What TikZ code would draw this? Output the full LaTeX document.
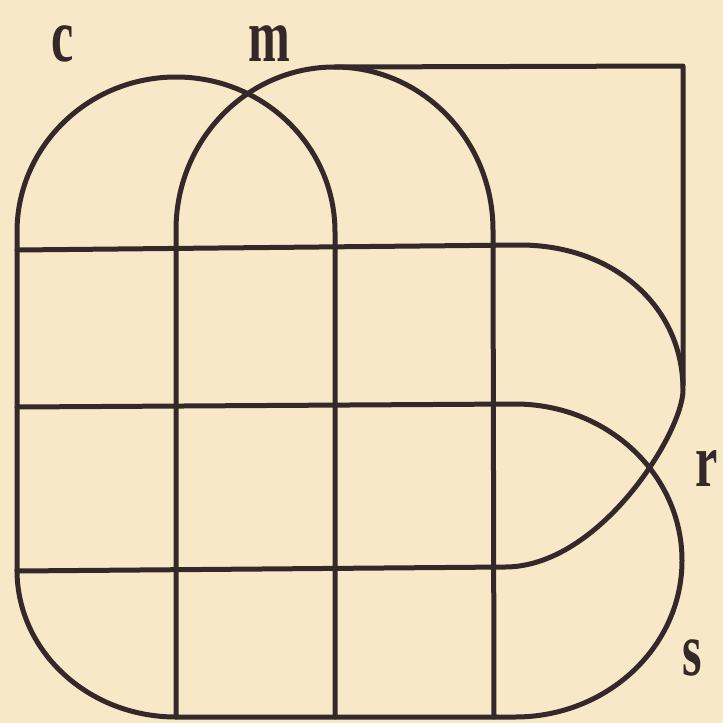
\documentclass[tikz,border=0pt]{standalone}
\usepackage{graphicx}
\usepackage{fontspec}
\newfontfamily\lblfont{Liberation Serif}
\definecolor{paper}{HTML}{F7E9C7}
\definecolor{ink}{HTML}{35282A}
\tikzset{
  lineset/.style={draw=ink, line width=5pt, line join=round, line cap=round},
  lbl/.style={text=ink, inner sep=0pt, font=\lblfont\fontsize{76}{76}\selectfont\bfseries}
}
\newcommand{\cond}[1]{\scalebox{0.66}[1]{#1}}
\begin{document}
\begin{tikzpicture}[x=1pt,y=-1pt]
\fill[paper] (0,0) rectangle (723,723);
\useasboundingbox (0,0) rectangle (723,723);
% set c : left arch
\draw[lineset] (17,570) -- (17,232) arc[start angle=180,end angle=0,x radius=159pt,y radius=155pt] -- (335,717);
% set m : right arch
\draw[lineset] (176,717) -- (176,230) arc[start angle=180,end angle=0,x radius=158.5pt,y radius=163pt] -- (494,717);
% top and right frame
\draw[lineset] (334.5,67) -- (683,66) -- (683,385);
% set r : middle band with round right end
\draw[lineset] (17,250) -- (520,245) .. controls (612,245) and (683,305) .. (683,390)
  .. controls (683,432) and (600,567) .. (505,567) -- (17,571);
% set s : lower band with round right end
\draw[lineset] (17,407) -- (515,404) arc[start angle=90,end angle=-90,x radius=167pt,y radius=156.5pt]
  -- (176,717) arc[start angle=270,end angle=180,x radius=159pt,y radius=147pt] -- (17,570);
% labels
\node[lbl] (lc) at (63,44) {\cond{c}};
\node[lbl] (lm) at (269,44) {\cond{m}};
\node[lbl] (lr) at (707,468) {\cond{r}};
\node[lbl] (ls) at (692,658) {\cond{s}};
\end{tikzpicture}
\end{document}
